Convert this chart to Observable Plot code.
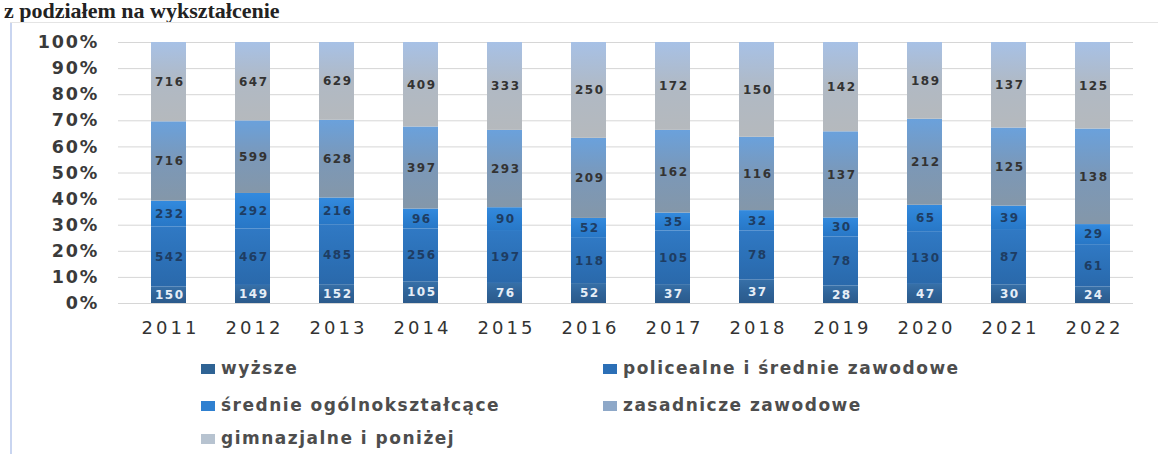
<!DOCTYPE html>
<html><head><meta charset="utf-8">
<script src="https://cdn.jsdelivr.net/npm/d3@7"></script>
<script src="https://cdn.jsdelivr.net/npm/@observablehq/plot@0.6"></script>
<style>
body{margin:0;background:#fff;width:1158px;height:454px;overflow:hidden;position:relative;font-family:"DejaVu Sans",sans-serif;}
#title{position:absolute;left:4px;top:-3px;font:bold 22px/28px "Liberation Serif",serif;color:#222;white-space:nowrap;}
#frameL{position:absolute;left:10px;top:22px;width:2px;height:440px;background:#c9d5f0;}
#frameT{position:absolute;left:10px;top:22px;width:1148px;height:1px;background:#e4e4e4;}
#chart{position:absolute;left:0;top:0;}
.lg{position:absolute;height:20px;line-height:20px;font-size:17px;font-weight:bold;letter-spacing:1.5px;color:#4d4d4d;white-space:nowrap;}
.sw{position:absolute;width:14px;height:10px;}
</style></head><body>
<div id="title">z podziałem na wykształcenie</div>
<div id="frameL"></div><div id="frameT"></div>
<div id="chart"></div>
<div id="legend"></div>
<script>
const years = ["2011","2012","2013","2014","2015","2016","2017","2018","2019","2020","2021","2022"];
const series = ["wyższe","policealne i średnie zawodowe","średnie ogólnokształcące","zasadnicze zawodowe","gimnazjalne i poniżej"];
const wyzsze      = [150,149,152,105,76,52,37,37,28,47,30,24];
const policealne  = [542,467,485,256,197,118,105,78,78,130,87,61];
const srednieOgol = [232,292,216,96,90,52,35,32,30,65,39,29];
const zasadnicze  = [716,599,628,397,293,209,162,116,137,212,125,138];
const gimnazjalne = [716,647,629,409,333,250,172,150,142,189,137,125];
const yTicks = [0,0.1,0.2,0.3,0.4,0.5,0.6,0.7,0.8,0.9,1];

// styles
const gradStops = [
  ["#2b5a8b","#2f6398","#3770a8"],
  ["#2a69ab","#2c71b8","#3079c4"],
  ["#2877c6","#2c80d2","#338ade"],
  ["#8497a9","#7b98b8","#6aa1dc"],
  ["#b5b9bd","#b0b9c4","#a7c1e6"]
];
const swatch = ["#2f6394","#2b6fb6","#2f80d0","#8ea8c8","#b7c3d0"];
const labelFill = ["#e6eef7","#1e3d63","#1e3d63","#333333","#333333"];

const valuesBySeries = [wyzsze, policealne, srednieOgol, zasadnicze, gimnazjalne];
const rows = [];
series.forEach((s, si) => years.forEach((y, yi) => rows.push({year: y, series: s, value: valuesBySeries[si][yi]})));

const textMark = (si) => Plot.text(rows, Plot.filter(d => d.series === series[si], Plot.stackY({
  x: "year", y: "value", z: "series", order: series, offset: "normalize",
  text: "value", fill: labelFill[si], fontSize: 12, fontWeight: "bold", dx: 0.75
})));

const svg = Plot.plot({
  width: 1158, height: 340,
  marginTop: 42, marginBottom: 37, marginLeft: 118, marginRight: 25,
  style: {background: "transparent", fontFamily: "DejaVu Sans, sans-serif"},
  x: {domain: years, paddingInner: 0.585, paddingOuter: 0.305, align: 0.595, label: null},
  y: {domain: [0, 1], label: null},
  color: {type: "ordinal", domain: series, range: series.map((_, i) => `url(#grad${i})`)},
  marks: [
    Plot.ruleY(yTicks, {stroke: "#d6d6d6", strokeWidth: 1}),
    Plot.barY(rows, Plot.stackY({x: "year", y: "value", fill: "series", order: series, offset: "normalize"})),
    ...series.map((_, i) => textMark(i)),
    Plot.axisY({ticks: yTicks, tickFormat: d3.format(".0%"), tickSize: 0, tickPadding: 21, fontSize: 17.5, fontWeight: "bold", fill: "#3a3a3a", dx: 1.5, label: null}),
    Plot.axisX({tickSize: 0, tickPadding: 18, fontSize: 18, fill: "#333", dx: 1.5, label: null})
  ]
});

const sel = d3.select(svg);
const defs = sel.insert("defs", ":first-child");
gradStops.forEach((g, i) => {
  const lg = defs.append("linearGradient").attr("id", "grad" + i).attr("x1", 0).attr("y1", 1).attr("x2", 0).attr("y2", 0);
  lg.append("stop").attr("offset", "0%").attr("stop-color", g[0]);
  lg.append("stop").attr("offset", "50%").attr("stop-color", g[1]);
  lg.append("stop").attr("offset", "100%").attr("stop-color", g[2]);
});
sel.selectAll('g[aria-label="y-axis tick label"] text').style("letter-spacing", "1.8px");
sel.selectAll('g[aria-label="x-axis tick label"] text').style("letter-spacing", "3px");
sel.selectAll('g[aria-label="text"] text').style("letter-spacing", "1.5px");
document.getElementById("chart").appendChild(svg);

// legend
const legendPos = [[201, 368], [603, 368], [201, 405], [603, 405], [201, 438]];
const legend = document.getElementById("legend");
series.forEach((s, i) => {
  const [lx, ly] = legendPos[i];
  const sw = document.createElement("div");
  sw.className = "sw";
  sw.style.left = lx + "px"; sw.style.top = (ly - 4) + "px"; sw.style.background = swatch[i];
  legend.appendChild(sw);
  const t = document.createElement("div");
  t.className = "lg";
  t.style.left = (lx + 20) + "px"; t.style.top = (ly - 10) + "px";
  t.textContent = s;
  legend.appendChild(t);
});
</script>
</body></html>
